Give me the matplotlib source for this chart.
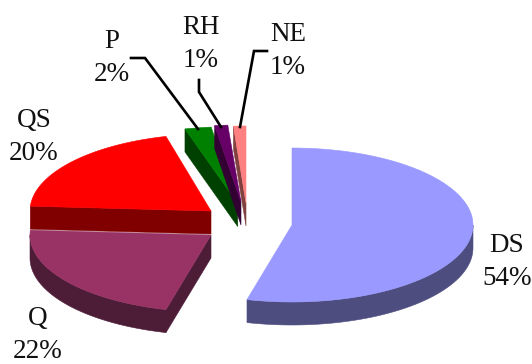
# -*- coding:utf-8 -*-
import numpy as np
from matplotlib import pyplot as plt
from matplotlib.patches import Polygon

names = ['DS', 'Q', 'QS', 'P', 'RH', 'NE']
shares = [54, 22, 20, 2, 1, 1]

top_colors = ['#9999ff', '#993366', '#ff0000', '#008000', '#660066', '#ff8080']
side_colors = ['#4d4d80', '#4d1d38', '#800000', '#004000', '#330033', '#804040']

# exploded centre of each wedge, in pixels
centers_x = [292, 211, 211, 237.7, 241, 246]
centers_y = [225, 235, 211, 203.5, 202, 203]
radii_x = [181, 181, 181, 212, 210, 200]
radius_y = 77
depth = 23

label_pos = {'DS': (507, 262), 'Q': (38, 335), 'QS': (34, 137),
             'P': (112, 58), 'RH': (201, 44), 'NE': (288, 51)}

# leader lines from the small wedges to their labels
leaders = [[(131, 58), (145, 58), (198, 129)],
           [(199, 80), (199, 92), (221, 127)],
           [(267, 51), (254, 51), (240, 127)]]


def rim(cx, cy, rx, start, end, n=80):
    """
    椭圆弧上的点，角度从12点方向顺时针计算
    """
    t = np.radians(np.linspace(start, end, n))
    return np.column_stack([cx + rx * np.sin(t), cy - radius_y * np.cos(t)])


def draw_wedge(ax, i, start, end):
    cx, cy, rx = centers_x[i], centers_y[i], radii_x[i]
    top = top_colors[i]
    side = side_colors[i]
    down = np.array([0, depth])

    # 切面：只有朝向观察者的一侧才可见
    if np.sin(np.radians(start)) < 0:
        p = rim(cx, cy, rx, start, start, 1)[0]
        c = np.array([cx, cy])
        ax.add_patch(Polygon([c, p, p + down, c + down], closed=True, fc=side,
                             ec=side, lw=0.4, zorder=i + 2))

    # 外侧弧面
    lo, hi = max(start, 90), min(end, 270)
    if hi > lo:
        arc = rim(cx, cy, rx, lo, hi)
        ax.add_patch(Polygon(np.vstack([arc, arc[::-1] + down]), closed=True,
                             fc=side, ec=side, lw=0.4, zorder=i + 2))

    # 顶面
    face = np.vstack([[cx, cy], rim(cx, cy, rx, start, end)])
    ax.add_patch(Polygon(face, closed=True, fc=top, ec=top, lw=0.4, zorder=i + 2.5))


def main():
    plt.rcParams['font.family'] = ['Liberation Serif', 'DejaVu Serif']
    fig = plt.figure(figsize=(5.32, 3.64), dpi=100)
    ax = fig.add_axes([0, 0, 1, 1])
    ax.set_xlim(0, 532)
    ax.set_ylim(364, 0)
    ax.axis('off')

    edges = np.concatenate([[0], np.cumsum(shares)]) * 3.6
    for i in range(len(names)):
        draw_wedge(ax, i, edges[i], edges[i + 1])

    for points in leaders:
        xs, ys = zip(*points)
        ax.plot(xs, ys, color='black', lw=1.9, solid_joinstyle='miter', zorder=10)

    for name, share in zip(names, shares):
        x, y = label_pos[name]
        ax.text(x, y, '%s\n%d%%' % (name, share), ha='center', va='center',
                fontsize=19.5, linespacing=1.45, color='#111111', zorder=11)

    fig.savefig('out.png', dpi=100)


if __name__ == '__main__':
    main()
